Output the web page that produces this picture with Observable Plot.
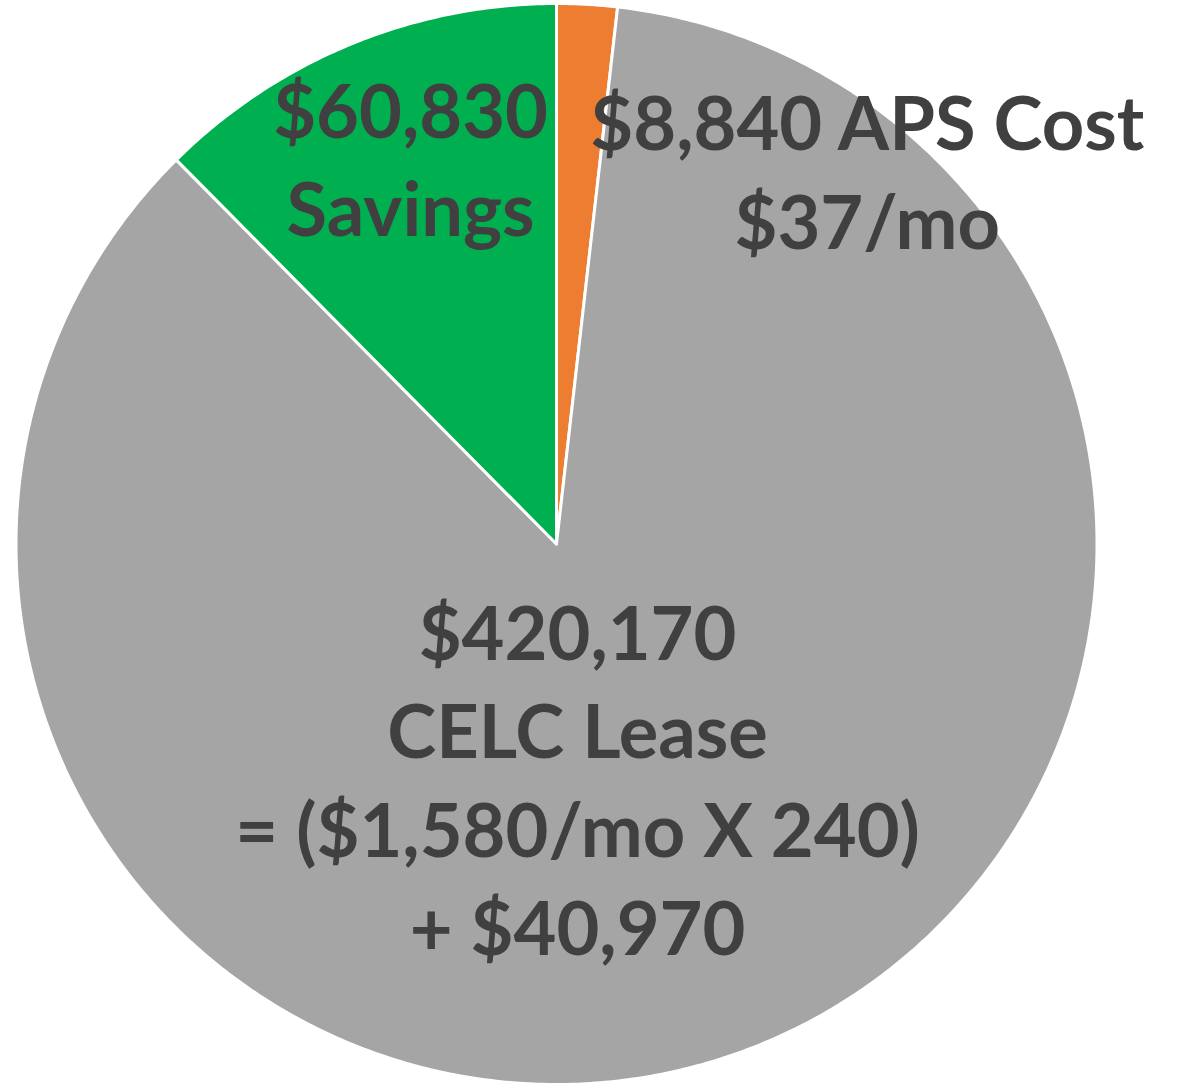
<!DOCTYPE html>
<html>
<head>
<meta charset="utf-8">
<script src="https://cdn.jsdelivr.net/npm/d3@7"></script>
<script src="https://cdn.jsdelivr.net/npm/@observablehq/plot@0.6"></script>
<style>
  html, body { margin: 0; padding: 0; background: #fff; }
  #chart svg { display: block; }
</style>
</head>
<body>
<div id="chart"></div>
<script>
// Data
const categories = ["APS Cost", "CELC Lease", "Savings"];
const values = [8840, 420170, 60830];
const colors = ["#ED7D31", "#A5A5A5", "#00B050"];
const labels = [
  "$8,840 APS Cost\n$37/mo",
  "$420,170\nCELC Lease\n= ($1,580/mo X 240)\n+ $40,970",
  "$60,830\nSavings"
];
// label anchor positions in radius units (manual layout, like the original)
const labelX = [0.575, 0.039, -0.270];
const labelY = [0.696, -0.429, 0.719];

const pie = d3.pie().sort(null).startAngle(0).endAngle(2 * Math.PI)(values);
const pts = [];
pie.forEach((s, i) => {
  const n = Math.max(2, Math.ceil((s.endAngle - s.startAngle) / (Math.PI / 360)));
  pts.push({cat: categories[i], x: 0, y: 0});
  for (let k = 0; k <= n; k++) {
    const a = s.startAngle + (s.endAngle - s.startAngle) * k / n;
    pts.push({cat: categories[i], x: Math.sin(a), y: Math.cos(a)});
  }
  pts.push({cat: categories[i], x: 0, y: 0});
});

const labelData = categories.map((c, i) => ({cat: c, text: labels[i], x: labelX[i], y: labelY[i]}));

const chart = Plot.plot({
  width: 1184,
  height: 1084,
  marginLeft: 15.5,
  marginRight: 1184 - 1096.5,
  marginTop: 3,
  marginBottom: 0,
  x: {domain: [-1, 1], axis: null},
  y: {domain: [-1, 1], axis: null},
  color: {domain: categories, range: colors},
  marks: [
    Plot.line(pts, {x: "x", y: "y", z: "cat", fill: "cat", stroke: "white", strokeWidth: 3, strokeLinejoin: "round", curve: "linear"}),
    Plot.text(labelData, {
      x: "x", y: "y", text: "text",
      fill: "#404040", fontSize: 74, fontWeight: "bold",
      fontFamily: "Lato", lineHeight: 1.33, lineAnchor: "middle"
    })
  ]
});
document.getElementById("chart").appendChild(chart);
</script>
</body>
</html>
